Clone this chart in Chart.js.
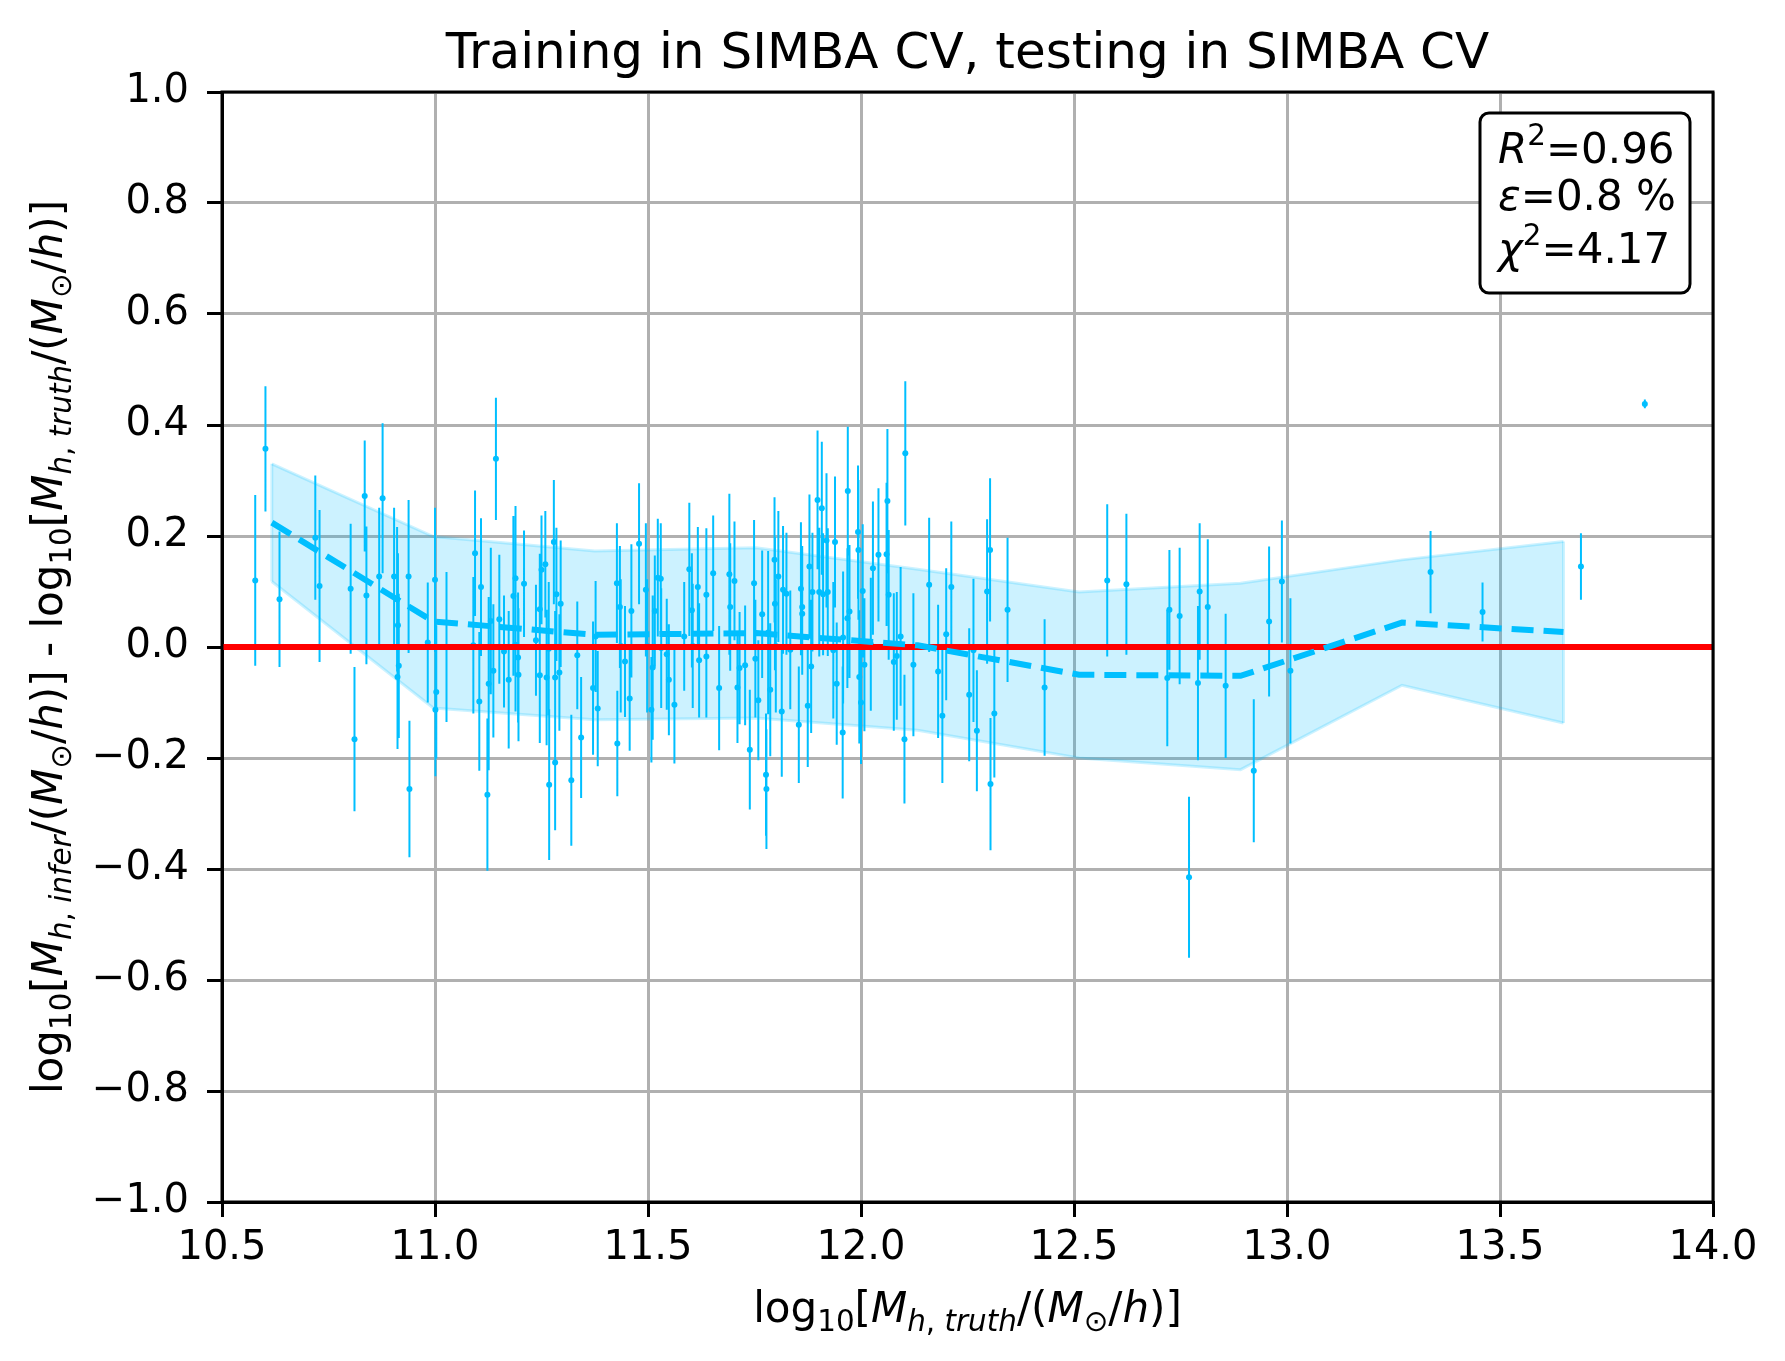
<!DOCTYPE html>
<html>
<head>
<meta charset="utf-8">
<title>SIMBA CV residuals</title>
<script src="https://cdn.jsdelivr.net/npm/chart.js@4.4.0/dist/chart.umd.min.js"></script>
<style>
  body { margin: 0; background: #fff; }
  canvas { display: block; }
</style>
</head>
<body>
<canvas id="myChart" width="1785" height="1361"></canvas>
<script>
// halo mass, truth (x) and residual infer - truth (y), with the error of each galaxy
const massTruth = [
  10.578, 10.602, 10.635, 10.719, 10.729, 10.802, 10.811, 10.835, 10.839, 10.869,
  10.877, 10.904, 10.911, 10.913, 10.915, 10.912, 10.938, 10.940, 10.983, 11.000,
  11.003, 11.001, 11.027, 11.090, 11.094, 11.104, 11.108, 11.123, 11.126, 11.131,
  11.137, 11.143, 11.151, 11.162, 11.173, 11.184, 11.189, 11.189, 11.195, 11.196,
  11.209, 11.237, 11.246, 11.246, 11.250, 11.259, 11.262, 11.267, 11.268, 11.279,
  11.282, 11.282, 11.285, 11.295, 11.292, 11.320, 11.334, 11.343, 11.371, 11.377,
  11.382, 11.427, 11.428, 11.434, 11.436, 11.446, 11.457, 11.461, 11.479, 11.495,
  11.498, 11.508, 11.511, 11.516, 11.523, 11.530, 11.531, 11.544, 11.549, 11.562,
  11.585, 11.597, 11.603, 11.605, 11.617, 11.620, 11.637, 11.637, 11.653, 11.667,
  11.691, 11.693, 11.703, 11.710, 11.715, 11.728, 11.739, 11.749, 11.752, 11.759,
  11.768, 11.777, 11.778, 11.782, 11.787, 11.797, 11.798, 11.800, 11.806, 11.814,
  11.817, 11.825, 11.834, 11.854, 11.859, 11.862, 11.862, 11.875, 11.879, 11.883,
  11.886, 11.898, 11.902, 11.908, 11.911, 11.919, 11.922, 11.935, 11.939, 11.943,
  11.957, 11.958, 11.969, 11.968, 11.973, 11.993, 11.994, 11.996, 12.000, 12.004,
  12.008, 12.023, 12.028, 12.041, 12.060, 12.062, 12.065, 12.077, 12.084, 12.093,
  12.102, 12.104, 12.123, 12.160, 12.181, 12.191, 12.200, 12.212, 12.254, 12.264,
  12.272, 12.296, 12.303, 12.304, 12.313, 12.344, 12.431, 12.578, 12.623, 12.719,
  12.724, 12.748, 12.770, 12.791, 12.795, 12.814, 12.856, 12.922, 12.958, 12.988,
  13.008, 13.337, 13.459, 13.690, 13.840
];
const residual = [
  0.120, 0.357, 0.086, 0.197, 0.110, 0.105, -0.166, 0.272, 0.093, 0.127,
  0.268, 0.127, 0.086, 0.039, -0.034, -0.054, 0.127, -0.256, 0.008, 0.121,
  -0.081, -0.113, 0.000, 0.003, 0.169, -0.098, 0.108, -0.266, -0.066, 0.047,
  -0.043, 0.339, 0.050, -0.008, -0.059, 0.092, 0.124, 0.004, -0.019, -0.050,
  0.114, 0.012, 0.068, -0.051, 0.139, 0.149, -0.055, -0.003, -0.248, 0.189,
  -0.055, -0.208, 0.095, 0.078, -0.046, -0.240, -0.015, -0.163, -0.074, 0.019,
  -0.111, 0.115, -0.174, 0.072, 0.002, -0.026, -0.093, 0.065, 0.186, 0.103,
  0.002, -0.113, -0.037, 0.065, 0.125, 0.123, -0.002, -0.013, -0.059, -0.104,
  0.019, 0.140, 0.066, 0.002, 0.108, -0.024, 0.094, -0.017, 0.133, -0.074,
  0.131, 0.072, 0.119, -0.073, -0.038, -0.033, -0.185, 0.115, -0.021, -0.096,
  0.059, -0.230, -0.256, 0.026, -0.077, 0.157, 0.078, 0.002, 0.127, -0.116,
  0.103, 0.096, -0.005, -0.140, 0.105, 0.072, 0.060, -0.106, 0.145, -0.035,
  0.099, 0.265, 0.099, 0.250, 0.095, 0.192, 0.099, -0.006, 0.189, -0.066,
  -0.154, 0.017, 0.281, 0.052, 0.064, 0.207, 0.175, -0.054, -0.100, 0.101,
  -0.032, 0.005, 0.142, 0.166, 0.167, 0.263, 0.094, -0.027, -0.016, 0.019,
  -0.166, 0.349, -0.032, 0.112, -0.044, -0.124, 0.023, 0.108, -0.086, -0.006,
  -0.151, 0.100, 0.175, -0.247, -0.120, 0.067, -0.073, 0.120, 0.113, -0.056,
  0.067, 0.056, -0.415, -0.065, 0.100, 0.072, -0.070, -0.223, 0.046, 0.118,
  -0.043, 0.135, 0.063, 0.145, 0.438
];
const residualErr = [
  0.154, 0.113, 0.122, 0.112, 0.137, 0.117, 0.130, 0.100, 0.124, 0.124,
  0.135, 0.124, 0.130, 0.130, 0.130, 0.130, 0.138, 0.123, 0.108, 0.130,
  0.120, 0.120, 0.135, 0.123, 0.113, 0.125, 0.124, 0.137, 0.156, 0.132,
  0.120, 0.110, 0.116, 0.101, 0.124, 0.144, 0.130, 0.120, 0.117, 0.120,
  0.096, 0.100, 0.100, 0.122, 0.098, 0.096, 0.122, 0.120, 0.136, 0.112,
  0.120, 0.122, 0.120, 0.114, 0.105, 0.118, 0.097, 0.109, 0.120, 0.100,
  0.104, 0.108, 0.095, 0.110, 0.120, 0.100, 0.094, 0.120, 0.109, 0.120,
  0.120, 0.095, 0.130, 0.100, 0.106, 0.100, 0.108, 0.100, 0.100, 0.106,
  0.098, 0.120, 0.103, 0.112, 0.108, 0.103, 0.120, 0.110, 0.104, 0.112,
  0.145, 0.115, 0.107, 0.100, 0.101, 0.108, 0.108, 0.114, 0.106, 0.108,
  0.115, 0.110, 0.108, 0.147, 0.120, 0.113, 0.120, 0.120, 0.118, 0.118,
  0.115, 0.110, 0.107, 0.105, 0.120, 0.110, 0.110, 0.110, 0.130, 0.120,
  0.107, 0.125, 0.116, 0.120, 0.110, 0.121, 0.115, 0.123, 0.118, 0.110,
  0.119, 0.119, 0.116, 0.126, 0.120, 0.120, 0.126, 0.120, 0.111, 0.120,
  0.120, 0.120, 0.120, 0.120, 0.129, 0.130, 0.117, 0.124, 0.115, 0.125,
  0.116, 0.130, 0.129, 0.121, 0.120, 0.121, 0.119, 0.118, 0.120, 0.129,
  0.109, 0.130, 0.129, 0.119, 0.115, 0.130, 0.123, 0.137, 0.127, 0.123,
  0.108, 0.123, 0.145, 0.139, 0.123, 0.122, 0.130, 0.129, 0.135, 0.110,
  0.131, 0.074, 0.053, 0.060, 0.008
];

// binned mean and 1-sigma band
const binCentre = [10.617, 10.996, 11.375, 11.754, 12.133, 12.512, 12.891, 13.270, 13.649];
const binMean   = [0.224, 0.046, 0.022, 0.025, 0.003, -0.050, -0.052, 0.044, 0.027];
const binUpper  = [0.330, 0.199, 0.173, 0.179, 0.140, 0.099, 0.115, 0.157, 0.190];
const binLower  = [0.118, -0.110, -0.131, -0.128, -0.150, -0.200, -0.221, -0.069, -0.137];

const xTicks = [10.5, 11.0, 11.5, 12.0, 12.5, 13.0, 13.5, 14.0];
const yTicks = [-1.0, -0.8, -0.6, -0.4, -0.2, 0.0, 0.2, 0.4, 0.6, 0.8, 1.0];

const statLines = [
  [{t: 'R', it: true}, {t: '2', sup: true}, {t: '=0.96'}],
  [{t: 'ε', it: true}, {t: '=0.8 %'}],
  [{t: 'χ', it: true}, {t: '2', sup: true}, {t: '=4.17'}]
];

const SKY = '#00bfff';
const FONT = "'DejaVu Sans'";

Chart.defaults.font.family = FONT;
Chart.defaults.color = '#000';

// error bars as short vertical segments split by gaps
const errData = [];
massTruth.forEach(function (x, i) {
  errData.push({x: x, y: residual[i] - residualErr[i]});
  errData.push({x: x, y: residual[i] + residualErr[i]});
  errData.push({x: x, y: null});
});

const last = binCentre.length - 1;
const bandEnds = [
  {x: binCentre[0], y: binLower[0]}, {x: binCentre[0], y: binUpper[0]}, {x: binCentre[0], y: null},
  {x: binCentre[last], y: binLower[last]}, {x: binCentre[last], y: binUpper[last]}
];

function fmt(v) {
  if (Math.abs(v) < 1e-9) return '0.0';
  return v.toFixed(1).replace('-', '\u2212');
}

// draw a run of mathtext-like pieces (italic, sub, sup)
function runFont(r, size) {
  const s = (r.sub || r.sup) ? size * 0.7 : size;
  return (r.it ? 'oblique ' : '') + s + 'px ' + FONT;
}
function runsWidth(ctx, runs, size) {
  let w = 0;
  runs.forEach(function (r) { ctx.font = runFont(r, size); w += ctx.measureText(r.t).width; });
  return w;
}
function drawRuns(ctx, runs, x, y, size) {
  let cx = x;
  runs.forEach(function (r) {
    ctx.font = runFont(r, size);
    let dy = 0;
    if (r.sub) dy = size * 0.22;
    if (r.sup) dy = -size * 0.42;
    ctx.fillText(r.t, cx, y + dy);
    cx += ctx.measureText(r.t).width;
  });
}

const massPart = function (tag) {
  return [
    {t: 'log'}, {t: '10', sub: true}, {t: '['}, {t: 'M', it: true},
    {t: 'h', it: true, sub: true}, {t: ',', sub: true}, {t: ' ' + tag, it: true, sub: true},
    {t: '/('}, {t: 'M', it: true}, {t: '\u2299', sub: true}, {t: '/'}, {t: 'h', it: true}, {t: ')]'}
  ];
};
const xLabelRuns = massPart('truth');
const yLabelRuns = massPart('infer').concat([{t: ' - '}], massPart('truth'));

const decorPlugin = {
  id: 'decor',
  afterDraw: function (chart) {
    const ctx = chart.ctx;
    const a = chart.chartArea;
    ctx.save();
    // spines
    ctx.strokeStyle = '#000';
    ctx.lineWidth = 3;
    ctx.strokeRect(a.left, a.top, a.right - a.left, a.bottom - a.top);

    ctx.fillStyle = '#000';
    ctx.textBaseline = 'alphabetic';
    ctx.textAlign = 'left';

    // title
    ctx.font = '50px ' + FONT;
    const title = 'Training in SIMBA CV, testing in SIMBA CV';
    const tw = ctx.measureText(title).width;
    ctx.fillText(title, (a.left + a.right) / 2 - tw / 2, 68);

    // x label
    const xw = runsWidth(ctx, xLabelRuns, 42);
    drawRuns(ctx, xLabelRuns, (a.left + a.right) / 2 - xw / 2, 1322, 42);

    // y label
    ctx.save();
    ctx.translate(62, (a.top + a.bottom) / 2);
    ctx.rotate(-Math.PI / 2);
    const yw = runsWidth(ctx, yLabelRuns, 42);
    drawRuns(ctx, yLabelRuns, -yw / 2, 0, 42);
    ctx.restore();

    // stats box
    ctx.beginPath();
    ctx.roundRect(1480, 113, 210, 180, 9);
    ctx.fillStyle = '#fff';
    ctx.fill();
    ctx.lineWidth = 3;
    ctx.strokeStyle = '#000';
    ctx.stroke();
    ctx.fillStyle = '#000';
    const baselines = [163, 210, 263];
    statLines.forEach(function (line, i) {
      drawRuns(ctx, line, 1498, baselines[i], 42);
    });
    ctx.restore();
  }
};

const config = {
  type: 'scatter',
  data: {
    datasets: [
      {
        label: 'mean',
        type: 'line',
        data: binCentre.map(function (x, i) { return {x: x, y: binMean[i]}; }),
        borderColor: SKY,
        borderWidth: 6,
        borderDash: [22, 10],
        pointRadius: 0,
        fill: false,
        order: 1
      },
      {
        label: 'zero',
        type: 'line',
        data: [{x: xTicks[0], y: 0}, {x: xTicks[xTicks.length - 1], y: 0}],
        borderColor: '#ff0000',
        borderWidth: 6,
        pointRadius: 0,
        fill: false,
        order: 2
      },
      {
        label: 'points',
        data: massTruth.map(function (x, i) { return {x: x, y: residual[i]}; }),
        backgroundColor: SKY,
        borderWidth: 0,
        pointRadius: 3,
        order: 3
      },
      {
        label: 'errors',
        type: 'line',
        data: errData,
        borderColor: SKY,
        borderWidth: 2,
        pointRadius: 0,
        spanGaps: false,
        fill: false,
        order: 4
      },
      {
        label: 'band upper',
        type: 'line',
        data: binCentre.map(function (x, i) { return {x: x, y: binUpper[i]}; }),
        borderColor: 'rgba(0,191,255,0.2)',
        backgroundColor: 'rgba(0,191,255,0.2)',
        borderWidth: 3,
        pointRadius: 0,
        fill: '+1',
        order: 5
      },
      {
        label: 'band lower',
        type: 'line',
        data: binCentre.map(function (x, i) { return {x: x, y: binLower[i]}; }),
        borderColor: 'rgba(0,191,255,0.2)',
        borderWidth: 3,
        pointRadius: 0,
        fill: false,
        order: 6
      },
      {
        label: 'band ends',
        type: 'line',
        data: bandEnds,
        borderColor: 'rgba(0,191,255,0.2)',
        borderWidth: 3,
        pointRadius: 0,
        spanGaps: false,
        fill: false,
        order: 7
      }
    ]
  },
  options: {
    responsive: false,
    devicePixelRatio: 1,
    animation: false,
    layout: { padding: { top: 92, right: 72, left: 0, bottom: 0 } },
    plugins: {
      legend: { display: false },
      tooltip: { enabled: false }
    },
    scales: {
      x: {
        type: 'linear',
        min: 10.5,
        max: 14.0,
        afterBuildTicks: function (scale) { scale.ticks = xTicks.map(function (v) { return {value: v}; }); },
        afterFit: function (scale) { scale.height = 159; },
        ticks: { font: { size: 40 }, padding: 8, maxRotation: 0, callback: function (v) { return v.toFixed(1); } },
        grid: { color: '#b0b0b0', lineWidth: 3, tickColor: '#000', tickLength: 15, tickWidth: 3 },
        border: { display: true, color: '#000', width: 3 }
      },
      y: {
        type: 'linear',
        min: -1.0,
        max: 1.0,
        afterBuildTicks: function (scale) { scale.ticks = yTicks.map(function (v) { return {value: v}; }); },
        afterFit: function (scale) { scale.width = 222; },
        ticks: { font: { size: 40 }, padding: 18, callback: fmt },
        grid: { color: '#b0b0b0', lineWidth: 3, tickColor: '#000', tickLength: 15, tickWidth: 3 },
        border: { display: true, color: '#000', width: 3 }
      }
    }
  },
  plugins: [decorPlugin]
};

const myChart = new Chart(document.getElementById('myChart'), config);
</script>
</body>
</html>
